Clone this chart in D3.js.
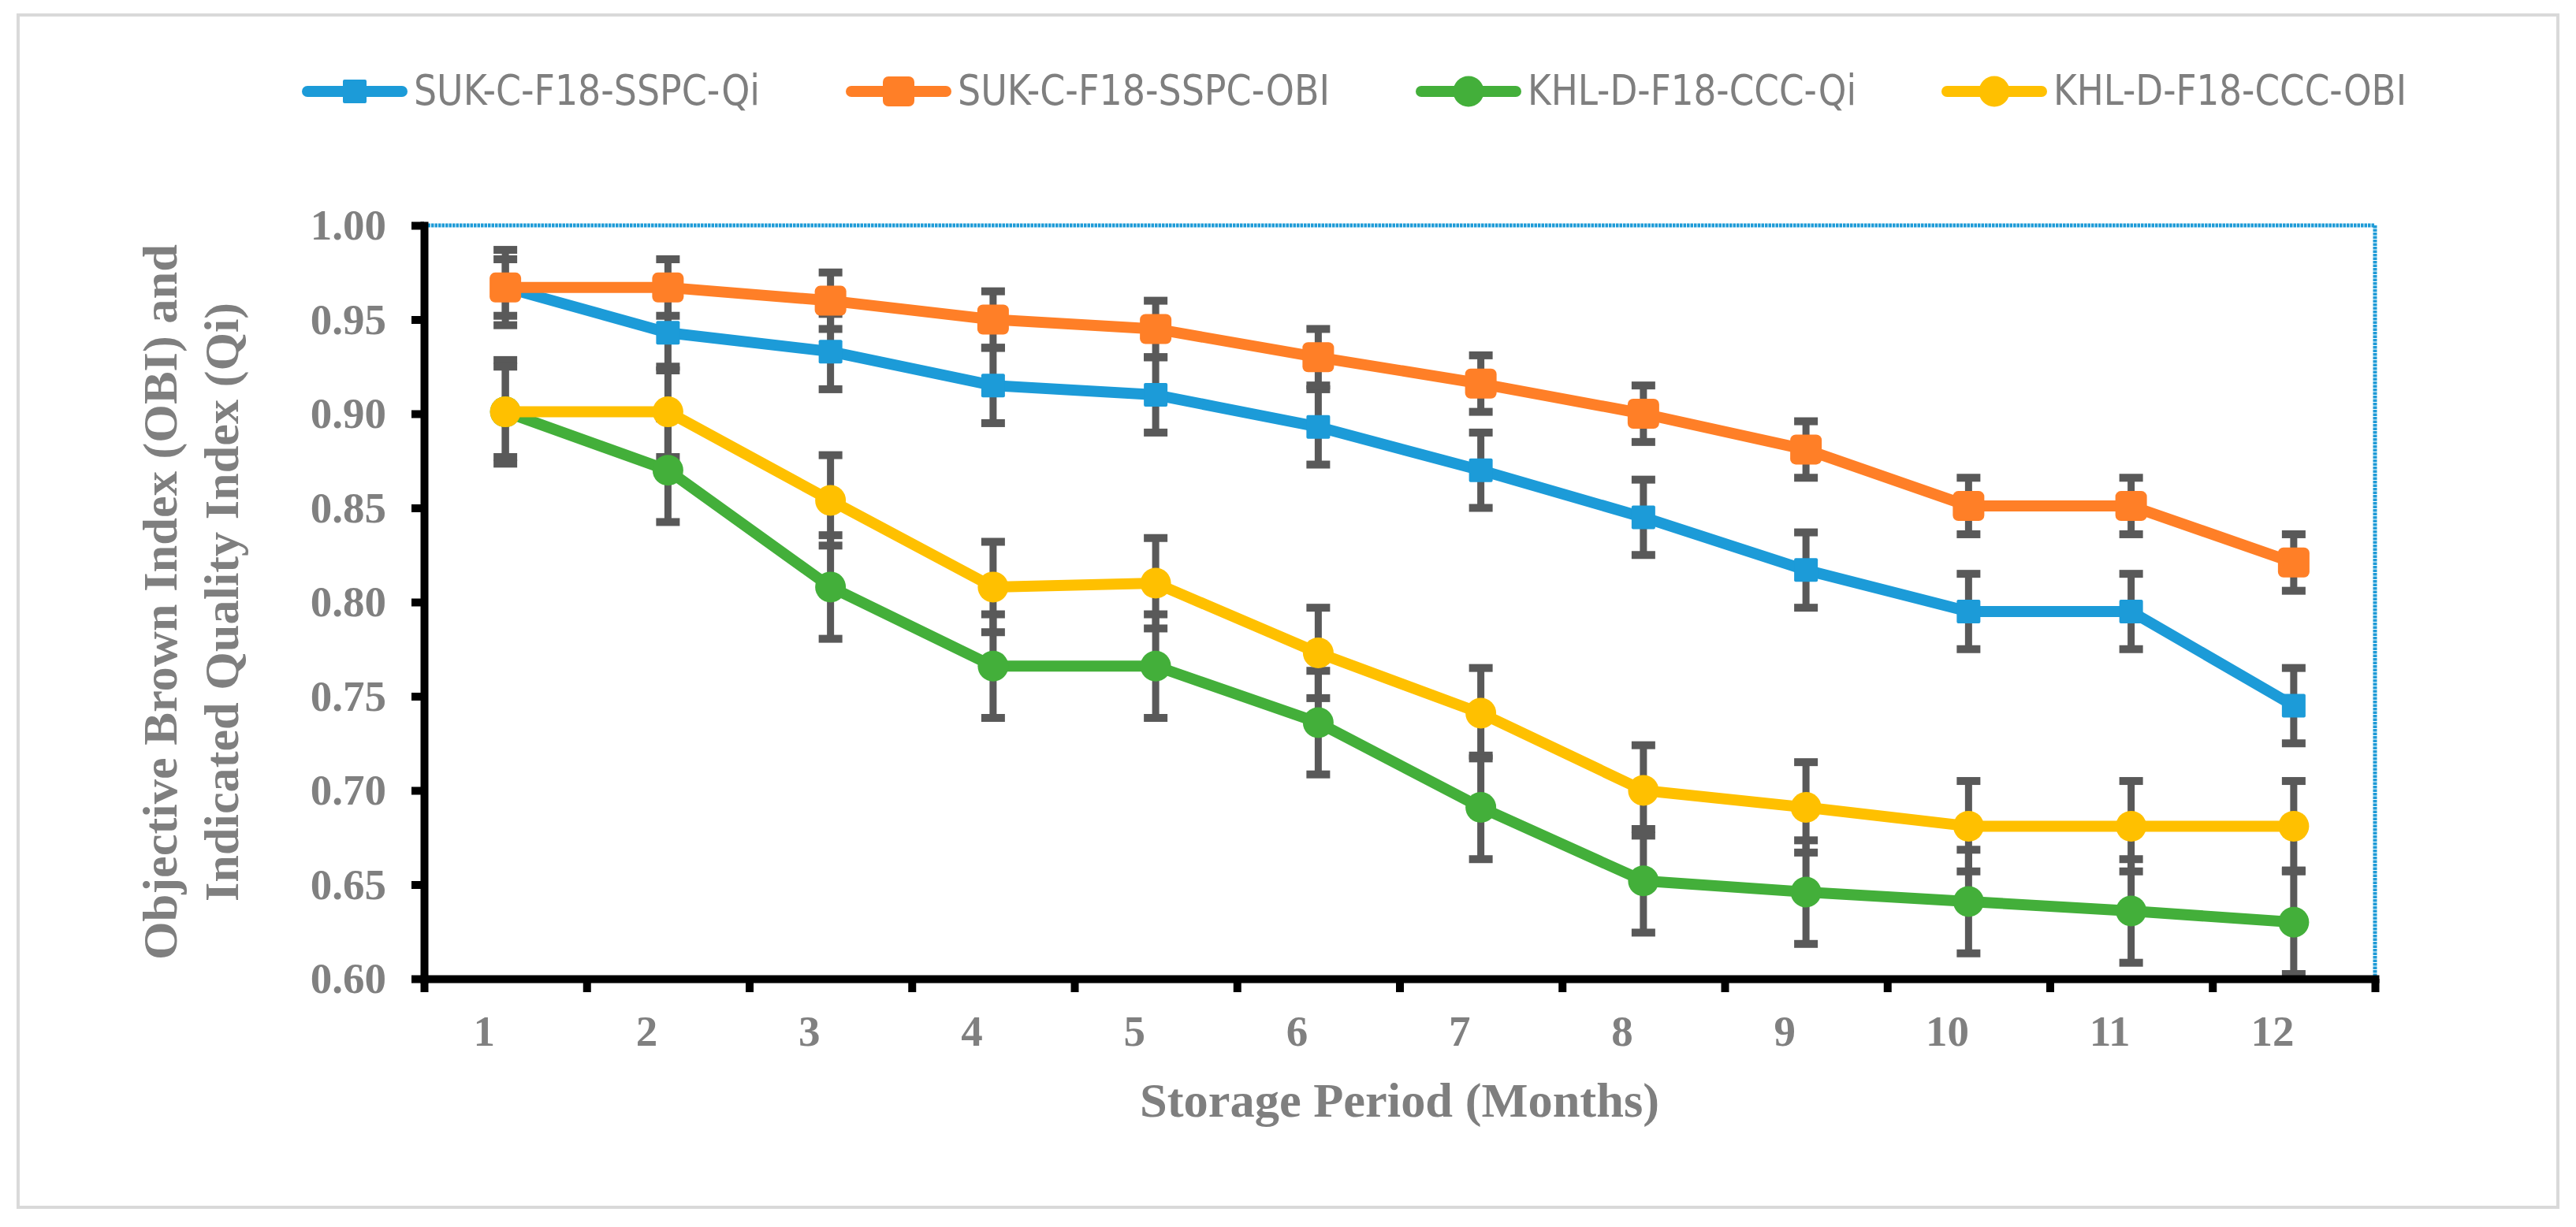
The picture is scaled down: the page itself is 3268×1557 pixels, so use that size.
<!DOCTYPE html>
<html>
<head>
<meta charset="utf-8">
<script src="https://cdn.jsdelivr.net/npm/d3@7/dist/d3.min.js"></script>
<style>
  html, body { margin: 0; padding: 0; background: #ffffff; }
  svg { display: block; }
</style>
</head>
<body>
<svg id="chart" width="3268" height="1557"></svg>
<script>
// ---------------- data ----------------
const months = [1, 2, 3, 4, 5, 6, 7, 8, 9, 10, 11, 12];
const seriesNames = ["SUK-C-F18-SSPC-Qi", "SUK-C-F18-SSPC-OBI", "KHL-D-F18-CCC-Qi", "KHL-D-F18-CCC-OBI"];
const sukQi  = [0.967, 0.943, 0.933, 0.915, 0.910, 0.893, 0.870, 0.845, 0.817, 0.795, 0.795, 0.745];
const sukOBI = [0.967, 0.967, 0.960, 0.950, 0.945, 0.930, 0.916, 0.900, 0.881, 0.851, 0.851, 0.821];
const khlQi  = [0.901, 0.870, 0.808, 0.766, 0.766, 0.736, 0.691, 0.652, 0.646, 0.641, 0.636, 0.630];
const khlOBI = [0.901, 0.901, 0.854, 0.808, 0.810, 0.773, 0.741, 0.700, 0.691, 0.681, 0.681, 0.681];
const errors = [0.020, 0.015, 0.0275, 0.024];
const yTicks = [0.60, 0.65, 0.70, 0.75, 0.80, 0.85, 0.90, 0.95, 1.00];
const xTitle = "Storage Period (Months)";
const yTitle = ["Objective Brown Index (OBI) and", "Indicated Quality Index (Qi)"];

// ---------------- styles ----------------
const colors = ["#1C9BD8", "#FF7F27", "#43AF3A", "#FFC000"];
const markers = ["square", "roundsquare", "circle", "circle"];
const values = [sukQi, sukOBI, khlQi, khlOBI];
const series = seriesNames.map((name, i) => ({
  name, color: colors[i], marker: markers[i], err: errors[i],
  points: months.map((m, j) => ({ m, v: values[i][j] }))
}));

const svg = d3.select("#chart");
const pLeft = 538, pRight = 3013, pTop = 286, pBottom = 1242;
const x = d3.scaleLinear().domain([0.5, 12.5]).range([pLeft, pRight]);
const y = d3.scaleLinear().domain([0.6, 1.0]).range([pBottom, pTop]);

const serif = "'Liberation Serif', 'Times New Roman', 'DejaVu Serif', serif";
const narrow = "'Liberation Sans Narrow', 'DejaVu Sans Condensed', 'Liberation Sans', sans-serif";
const gray = "#7f7f7f";

// outer frame
svg.append("rect").attr("x", 23).attr("y", 19).attr("width", 3222).attr("height", 1513)
  .attr("fill", "#ffffff").attr("stroke", "#d9d9d9").attr("stroke-width", 4);

// top / right dotted blue border of plot area
svg.append("path")
  .attr("d", `M${pLeft},${pTop}H${pRight}V${pBottom}`)
  .attr("fill", "none").attr("stroke", "#1E9BD7").attr("stroke-width", 5)
  .attr("stroke-dasharray", "3.5,1");

// ---------------- error bars ----------------
const eb = svg.append("g").attr("class", "errorbars");
series.forEach(s => {
  s.points.forEach(p => {
    const cx = x(p.m), y1 = y(p.v + s.err), y2 = y(p.v - s.err);
    eb.append("line").attr("x1", cx).attr("x2", cx).attr("y1", y1).attr("y2", y2)
      .attr("stroke", "#595959").attr("stroke-width", 9);
    [y1, y2].forEach(yy => {
      eb.append("line").attr("x1", cx - 15).attr("x2", cx + 15).attr("y1", yy).attr("y2", yy)
        .attr("stroke", "#595959").attr("stroke-width", 10);
    });
  });
});

// ---------------- lines & markers ----------------
const line = d3.line().x(d => x(d.m)).y(d => y(d.v));
function drawMarker(g, type, cx, cy, color) {
  if (type === "square") {
    g.append("rect").attr("x", cx - 15).attr("y", cy - 15).attr("width", 30).attr("height", 30)
      .attr("rx", 2).attr("fill", color);
  } else if (type === "roundsquare") {
    g.append("rect").attr("x", cx - 20).attr("y", cy - 19).attr("width", 40).attr("height", 38)
      .attr("rx", 7).attr("fill", color);
  } else {
    g.append("circle").attr("cx", cx).attr("cy", cy).attr("r", 19.5).attr("fill", color);
  }
}
series.forEach(s => {
  const g = svg.append("g");
  g.append("path").datum(s.points).attr("d", line)
    .attr("fill", "none").attr("stroke", s.color).attr("stroke-width", 14)
    .attr("stroke-linejoin", "round");
  s.points.forEach(p => drawMarker(g, s.marker, x(p.m), y(p.v), s.color));
});

// ---------------- axes ----------------
const yAxis = d3.axisLeft(y).tickValues(yTicks).tickFormat(d3.format(".2f"))
  .tickSize(16).tickSizeOuter(0).tickPadding(32);
const gy = svg.append("g").attr("transform", `translate(${pLeft},0)`).call(yAxis);
gy.select(".domain").attr("stroke", "#000").attr("stroke-width", 10).attr("stroke-linecap", "square");
gy.selectAll(".tick line").attr("stroke", "#000").attr("stroke-width", 10);
gy.selectAll(".tick text").attr("fill", "#808080").attr("font-family", serif)
  .attr("font-weight", "bold").attr("font-size", 55);

const boundaries = d3.range(0.5, 13, 1);
const xAxis = d3.axisBottom(x).tickValues(boundaries).tickFormat("").tickSize(17).tickSizeOuter(0);
const gx = svg.append("g").attr("transform", `translate(0,${pBottom})`).call(xAxis);
gx.select(".domain").attr("stroke", "#000").attr("stroke-width", 10).attr("stroke-linecap", "square");
gx.selectAll(".tick line").attr("stroke", "#000").attr("stroke-width", 10);

// x tick labels (Excel places them slightly left of the point positions)
svg.append("g").selectAll("text").data(months).join("text")
  .attr("x", d => x(d) - 27).attr("y", 1327)
  .attr("text-anchor", "middle").attr("fill", "#808080")
  .attr("font-family", serif).attr("font-weight", "bold").attr("font-size", 55)
  .text(d => d);

// axis titles
svg.append("text").attr("x", (pLeft + pRight) / 2).attr("y", 1417)
  .attr("text-anchor", "middle").attr("fill", gray)
  .attr("font-family", serif).attr("font-weight", "bold").attr("font-size", 62)
  .attr("textLength", 659).attr("lengthAdjust", "spacingAndGlyphs")
  .text(xTitle);

const yMid = (pTop + pBottom) / 2;
[[224, yTitle[0], 908], [302, yTitle[1], 760]].forEach(([bx, t, len]) => {
  svg.append("text").attr("transform", `translate(${bx},${yMid}) rotate(-90)`)
    .attr("text-anchor", "middle").attr("fill", gray)
    .attr("font-family", serif).attr("font-weight", "bold").attr("font-size", 62)
    .attr("textLength", len).attr("lengthAdjust", "spacingAndGlyphs")
    .text(t);
});

// ---------------- legend ----------------
const legendX = [450, 1140, 1863, 2530];
const legendTextW = [439, 472, 417, 448];
const legendY = 116;
const lg = svg.append("g").attr("class", "legend");
series.forEach((s, i) => {
  const cx = legendX[i];
  lg.append("line").attr("x1", cx - 60).attr("x2", cx + 60).attr("y1", legendY).attr("y2", legendY)
    .attr("stroke", s.color).attr("stroke-width", 14).attr("stroke-linecap", "round");
  drawMarker(lg, s.marker, cx, legendY, s.color);
  lg.append("text").attr("x", cx + 75).attr("y", legendY + 17)
    .attr("fill", gray).attr("font-family", narrow).attr("font-size", 53)
    .attr("textLength", legendTextW[i]).attr("lengthAdjust", "spacingAndGlyphs")
    .text(s.name);
});
</script>
</body>
</html>
